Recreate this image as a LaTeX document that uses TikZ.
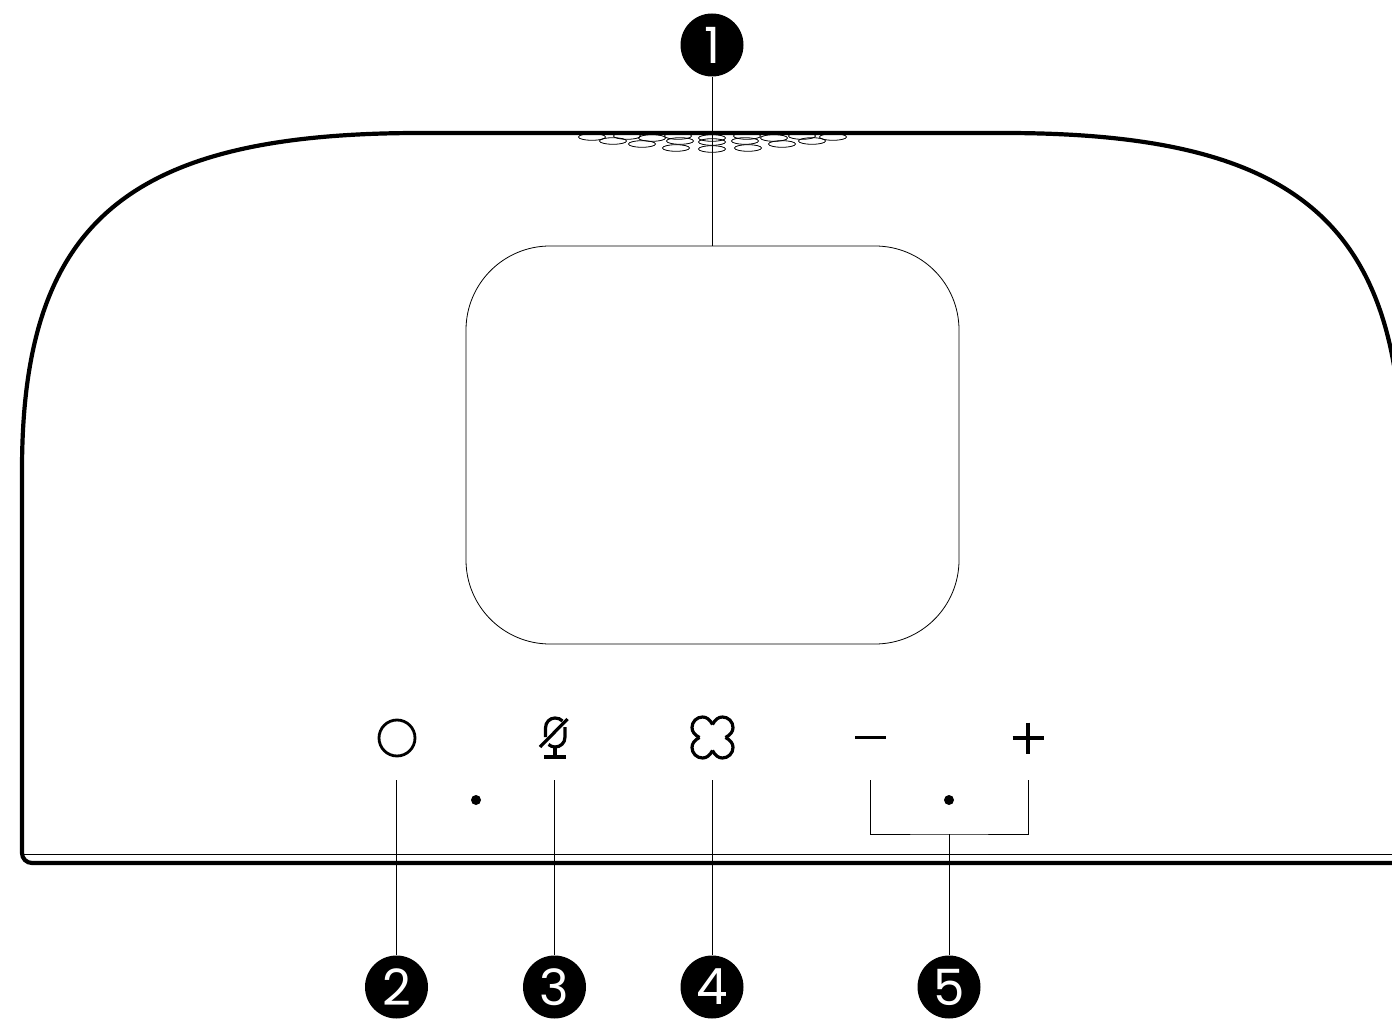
\documentclass[tikz,border=0pt]{standalone}
\usepackage{fontspec}
\setmainfont{Poppins}
\tikzset{
  callout/.style={circle,fill=black,text=white,inner sep=0,minimum size=31.5pt,
    font=\fontsize{25}{25}\selectfont},
  leader/.style={draw=black,line width=0.5pt},
  hull/.style={draw=black,line width=2.1pt},
  icon/.style={draw=black,line width=1.6pt},
  pad/.style={rectangle,draw=black,line width=0.4pt,rounded corners=42pt,
    minimum width=246.5pt,minimum height=199pt},
  hole/.style={draw=black,line width=0.4pt},
  led/.style={circle,fill=black,inner sep=0,minimum size=5pt},
  powerring/.style={circle,draw=black,line width=1.4pt,inner sep=0,minimum size=18pt}
}
\begin{document}
\begin{tikzpicture}[x=0.5pt,y=-0.5pt]
  \useasboundingbox (0,0) rectangle (1392,1026);
  \clip (0,0) rectangle (1392,1026);
  % speaker holes
  \foreach \hx/\hy in {592/137,627/136,652/138,678/136,712/138,747/136,774/138,802/136,833/137,
      613/141,680/141,712/142,745/141,812/141,642/144,782/144,676/148,712/149,748/148}
    \draw[hole] (\hx,\hy) ellipse [x radius=13.5,y radius=3.3];
  % body
  \draw[hull] (1402,470) .. controls (1402,220) and (1294,133) .. (1004,133)
    -- (420,133) .. controls (130,133) and (22,220) .. (22,470)
    -- (22,853) arc [start angle=180,end angle=90,radius=10] -- (1392,863);
  \draw[leader] (23,854) -- (1392,854);
  \node (screen) [pad] at (712.5,445) {};
  % buttons
  \node (power) [powerring] at (397,738) {};
  \node (ledleft) [led] at (476,800) {};
  \node (ledright) [led] at (949,800) {};
  \draw[icon] (545.5,737) -- (545.5,728) .. controls (545.5,722) and (550,718) .. (555,718)
    .. controls (558,718) and (560.5,719) .. (562.5,721);
  \draw[icon] (565,727) -- (565,737) .. controls (565,743) and (560.5,747) .. (555,747)
    .. controls (552.5,747) and (550.5,746) .. (548.5,744.5);
  \draw[icon] (540,747) -- (567.5,719);
  \draw[icon] (555,747) -- (555,757);
  \draw[icon] (544,757) -- (566,757);
  \foreach \r in {0,90,180,270}
    \draw[icon,shift={(712.5,737.5)},rotate=\r] (0,-13) .. controls (2.5,-18) and (6,-20.5) .. (10,-20.5)
      .. controls (15.8,-20.5) and (20.5,-15.8) .. (20.5,-10) .. controls (20.5,-6) and (18,-2.5) .. (13,0);
  \draw[icon] (855,737.5) -- (886,737.5);
  \draw[icon] (1012.5,738) -- (1043.5,738);
  \draw[icon] (1028,722.5) -- (1028,753.5);
  % callouts
  \node (one) [callout] at (712,45) {1};
  \node (two) [callout] at (396.5,987) {2};
  \node (three) [callout] at (554.5,987) {3};
  \node (four) [callout] at (712,987) {4};
  \node (five) [callout] at (949,987) {5};
  \coordinate (twoend) at (396.5,780);
  \coordinate (threeend) at (554.5,780);
  \coordinate (fourend) at (712,780);
  \coordinate (minusend) at (870.5,780);
  \coordinate (plusend) at (1028,780);
  \coordinate (fiveend) at (949,834);
  \draw[leader] (one) -- (one |- screen.north);
  \draw[leader] (two) -- (twoend);
  \draw[leader] (three) -- (threeend);
  \draw[leader] (four) -- (fourend);
  \draw[leader] (five) -- (fiveend);
  \draw[leader] (minusend) |- (fiveend) -| (plusend);
\end{tikzpicture}
\end{document}
